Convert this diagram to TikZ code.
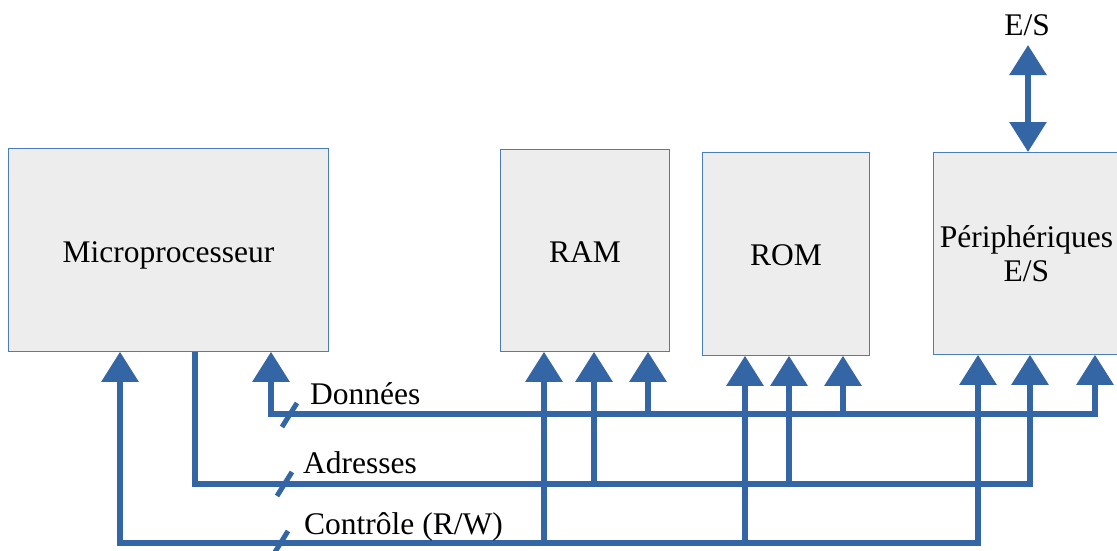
\documentclass[tikz,border=0pt]{standalone}
\usepackage{fontspec}
\setmainfont{Liberation Serif}
\usetikzlibrary{arrows.meta}
\definecolor{busblue}{RGB}{52,101,164}
\definecolor{boxline}{RGB}{74,126,187}
\definecolor{boxfill}{RGB}{237,237,237}
\begin{document}
\begin{tikzpicture}[x=1pt,y=-1pt,
  unitbox/.style={draw=boxline, fill=boxfill, line width=0.8pt, inner sep=0pt, anchor=north west, align=center,
    font=\fontsize{31.5}{34}\selectfont},
  bus/.style={draw=busblue, line width=6pt, line join=miter},
  busarrow/.style={bus, -{Triangle[width=36pt,length=30pt]}},
  tickmark/.style={draw=busblue, line width=5pt},
  lbl/.style={font=\fontsize{31.5}{34}\selectfont, text=black, inner sep=0pt, anchor=base west}
]
\useasboundingbox (0,0) rectangle (1117,550);

% boxes
\node[unitbox, minimum width=320pt, minimum height=203pt, text height=25pt, text depth=0pt] (micro) at (8,148) {Microprocesseur};
\node[unitbox, minimum width=169pt, minimum height=202pt, text height=24pt, text depth=0pt] (ram) at (500,149) {RAM};
\node[unitbox, minimum width=167pt, minimum height=203pt, text height=23pt, text depth=0pt] (rom) at (702,152) {ROM};
\node[unitbox, minimum width=186pt, minimum height=202pt] (per) at (933,152) {Périphériques\\E/S};

% E/S top
\node[font=\fontsize{31.5}{34}\selectfont, inner sep=0pt] (es) at (1027,25) {E/S};
\coordinate (estop) at (1028,45);
\draw[bus, {Triangle[width=36pt,length=30pt]}-{Triangle[width=36pt,length=30pt]}] (estop) -- (estop |- per.north);

% bus coordinates
\coordinate (d0) at (271,414);
\coordinate (d1) at (1095,414);
\coordinate (a0) at (195,484);
\coordinate (a1) at (1030,484);
\coordinate (c0) at (120,543);
\coordinate (c1) at (978,543);

% Donnees bus
\draw[bus, {Triangle[width=36pt,length=30pt]}-{Triangle[width=36pt,length=30pt]}]
  (d0 |- micro.south) -- (d0) -- (d1) -- (d1 |- per.south);
\draw[busarrow] (648,414) -- (648,414 |- ram.south);
\draw[busarrow] (843,414) -- (843,414 |- rom.south);

% Adresses bus
\draw[bus, -{Triangle[width=36pt,length=30pt]}]
  (a0 |- micro.south) -- (a0) -- (a1) -- (a1 |- per.south);
\draw[busarrow] (594,484) -- (594,484 |- ram.south);
\draw[busarrow] (789,484) -- (789,484 |- rom.south);

% Controle bus
\draw[bus, {Triangle[width=36pt,length=30pt]}-{Triangle[width=36pt,length=30pt]}]
  (c0 |- micro.south) -- (c0) -- (c1) -- (c1 |- per.south);
\draw[busarrow] (544,543) -- (544,543 |- ram.south);
\draw[busarrow] (745,543) -- (745,543 |- rom.south);

% ticks
\draw[tickmark] (282,427) -- (297,403);
\draw[tickmark] (277,496) -- (292,472);
\draw[tickmark] (275,552) -- (288,531);

% labels
\node[lbl] (ld) at (310,404) {Données};
\node[lbl] (la) at (303,473) {Adresses};
\node[lbl] (lc) at (304,534) {Contrôle (R/W)};
\end{tikzpicture}
\end{document}
